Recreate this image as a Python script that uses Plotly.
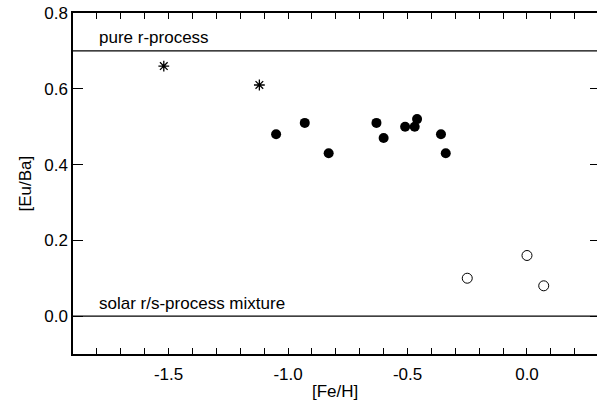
import plotly.graph_objects as go

# Data
star_feh = [-1.52, -1.12]
star_euba = [0.66, 0.61]

filled_feh = [-1.05, -0.93, -0.83, -0.63, -0.60, -0.51, -0.47, -0.46, -0.36, -0.34]
filled_euba = [0.48, 0.51, 0.43, 0.51, 0.47, 0.50, 0.50, 0.52, 0.48, 0.43]

open_feh = [-0.25, 0.00, 0.07]
open_euba = [0.10, 0.16, 0.08]

pure_r_level = 0.7
solar_level = 0.0
x_range = [-1.9, 0.293]
y_range = [-0.1, 0.8]
x_ticks = [-1.5, -1.0, -0.5, 0.0]
x_ticktext = ["-1.5", "-1.0", "-0.5", "0.0"]
y_ticks = [0.0, 0.2, 0.4, 0.6, 0.8]
y_ticktext = ["0.0", "0.2", "0.4", "0.6", "0.8"]

font = "Liberation Sans, Arial, sans-serif"
fs = 17

fig = go.Figure()

fig.add_trace(go.Scatter(
    x=star_feh, y=star_euba, mode="markers",
    marker=dict(symbol="asterisk-open", size=9, color="black",
                line=dict(color="black", width=1.3)),
    showlegend=False))
fig.add_trace(go.Scatter(
    x=filled_feh, y=filled_euba, mode="markers",
    marker=dict(symbol="circle", size=10, color="black", line=dict(width=0)),
    showlegend=False))
fig.add_trace(go.Scatter(
    x=open_feh, y=open_euba, mode="markers",
    marker=dict(symbol="circle-open", size=10, color="black",
                line=dict(color="black", width=1)),
    showlegend=False))

# dummy trace for right-side ticks
fig.add_trace(go.Scatter(x=[None], y=[None], yaxis="y2", showlegend=False))

for lvl in (pure_r_level, solar_level):
    fig.add_shape(type="line", xref="paper", x0=0, x1=1, yref="y",
                  y0=lvl, y1=lvl, line=dict(color="black", width=1.3))

fig.add_annotation(x=0, xref="paper", xshift=24, xanchor="left",
                   y=pure_r_level, yref="y", yanchor="middle", yshift=13,
                   text="pure r-process", showarrow=False,
                   font=dict(family=font, size=fs, color="black"))
fig.add_annotation(x=0, xref="paper", xshift=24, xanchor="left",
                   y=solar_level, yref="y", yanchor="middle", yshift=13,
                   text="solar r/s-process mixture", showarrow=False,
                   font=dict(family=font, size=fs, color="black"))

# axis titles
fig.add_annotation(x=0.5, xref="paper", y=0, yref="paper", yanchor="middle",
                   yshift=-37, text="[Fe/H]", showarrow=False,
                   font=dict(family=font, size=fs, color="black"))
fig.add_annotation(x=0, xref="paper", xanchor="center", xshift=-48,
                   y=0.5, yref="paper", yanchor="middle", textangle=-90,
                   text="[Eu/Ba]", showarrow=False,
                   font=dict(family=font, size=fs, color="black"))

fig.update_layout(
    width=597, height=400,
    margin=dict(l=73, r=0, t=13, b=46),
    paper_bgcolor="white", plot_bgcolor="white",
    font=dict(family=font, size=fs, color="black"),
    xaxis=dict(
        range=x_range, tickmode="array", tickvals=x_ticks, ticktext=x_ticktext,
        ticks="inside", ticklen=6, tickcolor="black", tickwidth=1,
        ticklabelstandoff=4,
        minor=dict(dtick=0.1, tick0=0, ticks="inside", ticklen=3,
                   tickcolor="black", tickwidth=1),
        showline=True, linecolor="black", linewidth=1.5, mirror="allticks",
        showgrid=False, zeroline=False,
    ),
    yaxis=dict(
        range=y_range, tickmode="array", tickvals=y_ticks, ticktext=y_ticktext,
        ticks="inside", ticklen=10, tickcolor="black", tickwidth=1,
        showline=True, linecolor="black", linewidth=1.5, mirror=False,
        showgrid=False, zeroline=False,
    ),
    yaxis2=dict(
        range=y_range, overlaying="y", side="right",
        tickmode="array", tickvals=y_ticks,
        ticks="inside", ticklen=7, tickcolor="black", tickwidth=1,
        showticklabels=False, showline=False, showgrid=False, zeroline=False,
    ),
)

fig.write_html("out.html")
